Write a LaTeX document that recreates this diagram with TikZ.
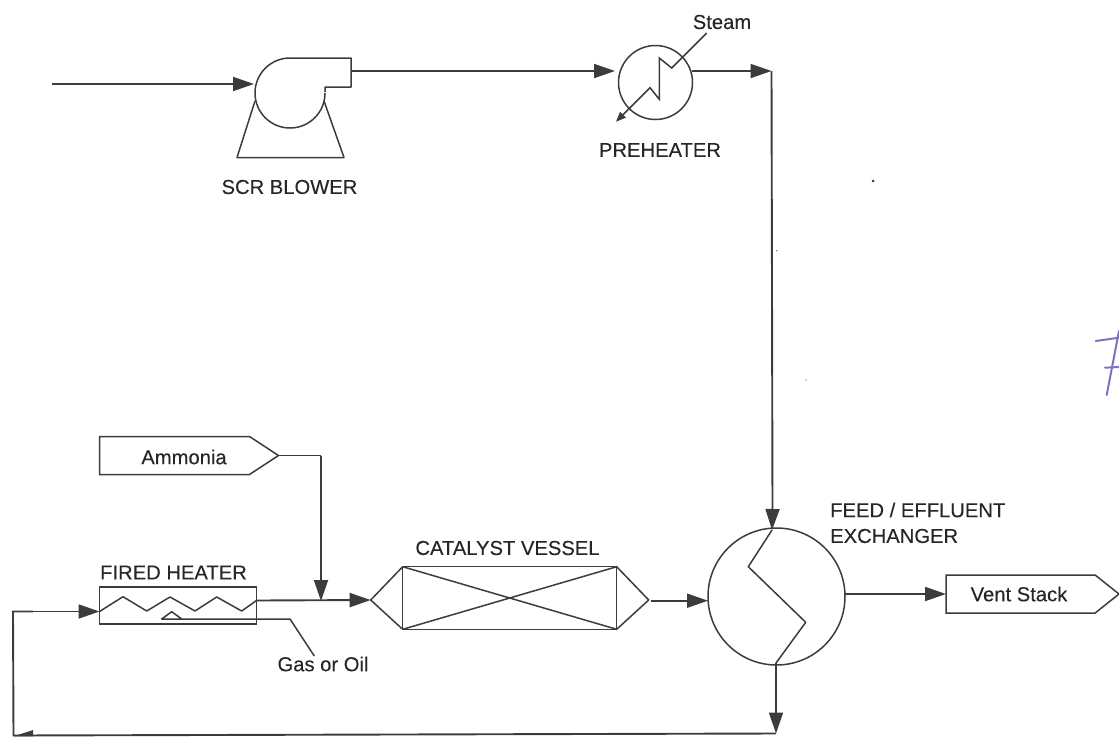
\documentclass[tikz,border=0pt]{standalone}
\usepackage{fontspec}
\setmainfont[FakeBold=0.2]{Liberation Sans}
\usetikzlibrary{arrows.meta,shapes.symbols,calc}
\definecolor{ink}{HTML}{3C3C3C}
\definecolor{txt}{HTML}{262626}
\definecolor{pen}{HTML}{7B74C4}
\tikzset{
  lbl/.style={inner sep=0pt,text=txt,font=\fontsize{20.2}{24}\selectfont},
  pipe/.style={draw=ink,line width=1.9pt},
  flow/.style={pipe,-{Triangle[length=21pt,width=14pt]}},
  thin line/.style={draw=ink,line width=1.5pt},
  vessel/.style={circle,draw=ink,line width=1.5pt,inner sep=0pt,outer sep=0pt},
  boxed/.style={draw=ink,line width=1.5pt,inner sep=0pt,outer sep=0pt},
  tag/.style={signal,signal to=east,draw=ink,line width=1.5pt,inner sep=0pt,outer sep=0pt,anchor=west},
  handwriting/.style={pen,line width=2pt,line cap=round},
}
\begin{document}
\begin{tikzpicture}[x=1pt,y=-1pt]
\useasboundingbox (0,0) rectangle (1119,737);
% blower
\coordinate (bl) at (255,92);
\coordinate (br) at (325,92);
\draw[thin line,line join=round] (br) -- (325,87) -- (351,87) -- (351,58) -- (290,58)
  arc[start angle=270,end angle=180,radius=35]
  arc[start angle=180,end angle=0,radius=35];
\draw[thin line,line join=round] (255,101) -- (237,157.5) -- (344,157.5) -- (324,101);
\coordinate (feed) at (52,84);
\coordinate (blin) at (254,84);
\coordinate (blout) at (351,71);
\draw[flow] (feed) -- (blin);
\node[lbl] (blowerlabel) at (289.5,187) {SCR BLOWER};
% preheater
\node[vessel,minimum size=74pt] (pre) at (655.5,82.5) {};
\coordinate (prein) at (615,71);
\coordinate (preout) at (692,71);
\coordinate (corner) at (771.5,71);
\draw[flow] (blout) -- (prein);
\draw[flow] (preout) -- (corner);
\draw[thin line,-{Triangle[length=10pt,width=8pt]}] (706.7,33) -- (671.7,68) -- (659.3,58) -- (659.3,99.3) -- (650,87.7) -- (616,121.7);
\node[lbl] (steam) at (722,22) {Steam};
\node[lbl] (prelabel) at (660,150) {PREHEATER};
% exchanger
\node[vessel,minimum size=137pt] (exch) at (776.5,596.5) {};
\coordinate (exin) at (772,530);
\coordinate (exout) at (776,663);
\draw[thin line,line join=round] (exin) -- (748.3,566.7) -- (805.7,622.3) -- (exout);
\draw[pipe] (corner) -- (772.5,512);
\draw[flow] (772.5,510) -- (exin);
\node[lbl,anchor=west] (exlabel1) at (830,510) {FEED / EFFLUENT};
\node[lbl,anchor=west] (exlabel2) at (830,536) {EXCHANGER};
% vent stack
\node[tag,minimum width=173pt,minimum height=38pt,signal pointer angle=77] (vent) at (946,594) {};
\node[lbl] (ventlabel) at (1019,594) {Vent Stack};
\draw[flow] (exch.east |- vent.west) -- (vent.west);
% return line
\coordinate (retcorner) at (776,733.5);
\coordinate (retend) at (13.5,735.5);
\coordinate (retup) at (13,611.5);
\draw[flow] (exout) -- (retcorner);
\draw[pipe,line join=miter] (retcorner) -- (retend) -- (retup) -- (33,611.5);
\fill[ink] (14,736.3) -- (33,730) -- (33,736.3) -- cycle;
% fired heater
\node[boxed,minimum width=157pt,minimum height=37pt] (heater) at (178,605.5) {};
\node[lbl] (heaterlabel) at (173.5,572.5) {FIRED HEATER};
\coordinate (hin) at (99.5,611.5);
\coordinate (hout) at (256.5,600.5);
\draw[flow] (retup) -- (hin);
\draw[thin line,line join=round] (hin) -- (123,596.7) -- (146.7,611) -- (170,597) -- (195,611) -- (216.7,597) -- (241.7,611) -- (hout);
\draw[thin line,line join=round] (181.7,619) -- (171.7,611.7) -- (161.7,619) -- (290,619) -- (314.3,656);
\node[lbl] (fuel) at (323,664) {Gas or Oil};
% ammonia
\node[tag,minimum width=179pt,minimum height=38pt,signal pointer angle=66.4] (amm) at (99.5,455.5) {};
\node[lbl] (ammlabel) at (184,457) {Ammonia};
\coordinate (ammturn) at (321,455.5);
\coordinate (join) at (321,601);
\draw[pipe] (amm.east) -- (ammturn);
\draw[flow] (ammturn) -- (join);
% catalyst vessel
\node[boxed,minimum width=214pt,minimum height=62.6pt] (cat) at (509.7,598) {};
\coordinate (catin) at (370.7,600);
\coordinate (catout) at (648.7,600);
\draw[thin line,line join=round] (cat.north west) -- (catin) -- (cat.south west) -- (cat.north east) -- (catout) -- (cat.south east) -- (cat.north west);
\node[lbl] (catlabel) at (507.5,548) {CATALYST VESSEL};
\draw[flow] (hout) -- (catin);
\coordinate (catgap) at (651,600.7);
\draw[flow] (catgap) -- (exch.west |- catgap);
% handwritten mark
\draw[handwriting] (1095.7,341) -- (1119,337.7);
\draw[handwriting] (1119,331) -- (1106.7,395);
\draw[handwriting] (1105,367.7) -- (1119,367);
% scan specks
\fill[ink] (873,181) circle[radius=1.5pt];
\fill[ink!70] (776.7,250.7) circle[radius=0.8pt];
\fill[ink!40] (806,380) circle[radius=1pt];
\end{tikzpicture}
\end{document}
